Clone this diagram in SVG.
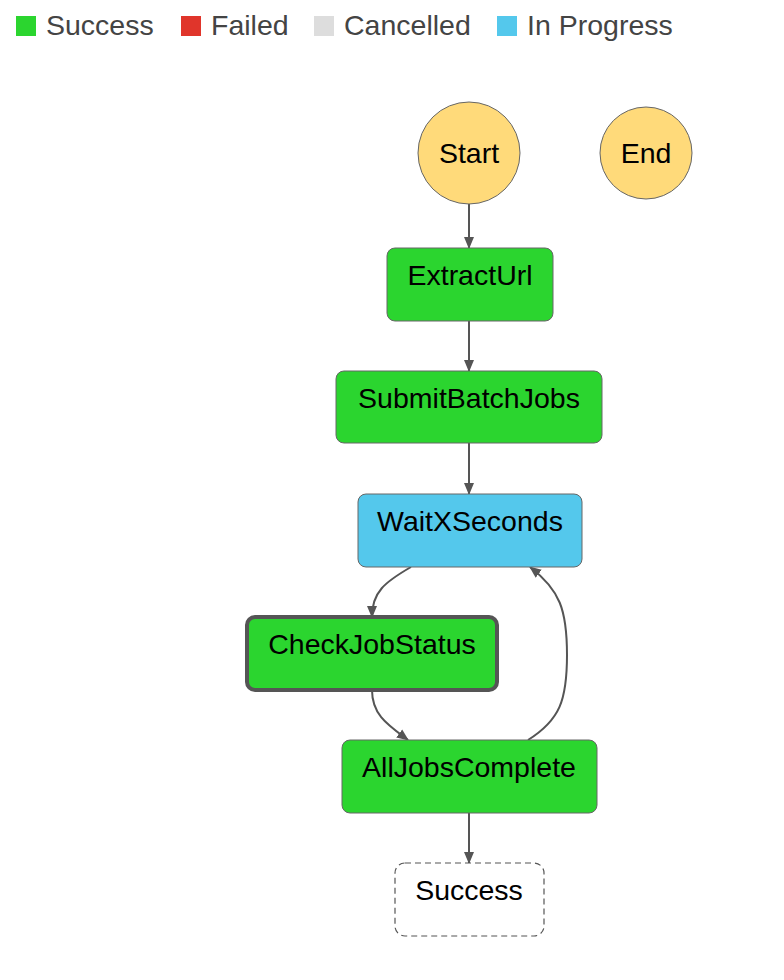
<svg xmlns="http://www.w3.org/2000/svg" width="784" height="980" viewBox="0 0 784 980">
<style>
text{font-family:"Liberation Sans",Arial,sans-serif;font-size:28.5px;fill:#000}
.lg{fill:#444}
.node rect{stroke:#666;stroke-width:1}
.ok{fill:#2bd52f}
.prog{fill:#54c8ec}
.circ{fill:#ffda7a;stroke:#666;stroke-width:1}
.edge{fill:none;stroke:#555;stroke-width:2}
</style>
<defs>
<marker id="arr" viewBox="0 0 12 12" refX="11" refY="6" markerWidth="12" markerHeight="12" markerUnits="userSpaceOnUse" orient="auto">
<path d="M0,1 L12,6 L0,11 Z" fill="#555"/>
</marker>
</defs>
<rect width="784" height="980" fill="#fff"/>
<g id="legend">
<rect x="16" y="16" width="20" height="20" fill="#2bd52f"/>
<text class="lg" x="46" y="35">Success</text>
<rect x="181" y="16" width="20" height="20" fill="#e0352b"/>
<text class="lg" x="211" y="35">Failed</text>
<rect x="314" y="16" width="20" height="20" fill="#dddddd"/>
<text class="lg" x="344" y="35">Cancelled</text>
<rect x="497" y="16" width="20" height="20" fill="#54c8ec"/>
<text class="lg" x="527" y="35">In Progress</text>
</g>
<g id="edges">
<path class="edge" d="M469,204 L469,248" marker-end="url(#arr)"/>
<path class="edge" d="M469,321 L469,371" marker-end="url(#arr)"/>
<path class="edge" d="M469,443 L469,494" marker-end="url(#arr)"/>
<path class="edge" d="M411,567 C385,582 372,592 372,617" marker-end="url(#arr)"/>
<path class="edge" d="M372,690 C372,715 388,725 408,740" marker-end="url(#arr)"/>
<path class="edge" d="M528,740 C560,720 567,700 567,655 C567,610 560,590 530,567" marker-end="url(#arr)"/>
<path class="edge" d="M469,813 L469,863" marker-end="url(#arr)"/>
</g>
<g id="start">
<circle class="circ" cx="469" cy="153" r="51"/>
<text x="469" y="163" text-anchor="middle">Start</text>
</g>
<g id="end">
<circle class="circ" cx="646" cy="153" r="46"/>
<text x="646" y="163" text-anchor="middle">End</text>
</g>
<g id="extracturl" class="node">
<rect class="ok" x="387" y="248" width="166" height="73" rx="8"/>
<text x="470" y="285" text-anchor="middle">ExtractUrl</text>
</g>
<g id="submitbatchjobs" class="node">
<rect class="ok" x="336" y="371" width="266" height="72" rx="8"/>
<text x="469" y="408" text-anchor="middle">SubmitBatchJobs</text>
</g>
<g id="waitxseconds" class="node">
<rect class="prog" x="358" y="494" width="224" height="73" rx="8"/>
<text x="470" y="531" text-anchor="middle">WaitXSeconds</text>
</g>
<g id="checkjobstatus" class="node">
<rect class="ok" x="247" y="617" width="250" height="73" rx="8" style="stroke:#555;stroke-width:4"/>
<text x="372" y="654" text-anchor="middle">CheckJobStatus</text>
</g>
<g id="alljobscomplete" class="node">
<rect class="ok" x="342" y="740" width="255" height="73" rx="8"/>
<text x="469" y="777" text-anchor="middle">AllJobsComplete</text>
</g>
<g id="success" class="node">
<rect x="395" y="863" width="149" height="73" rx="10" fill="#fff" style="stroke:#555;stroke-width:1.2;stroke-dasharray:6,4"/>
<text x="469" y="900" text-anchor="middle">Success</text>
</g>
</svg>
